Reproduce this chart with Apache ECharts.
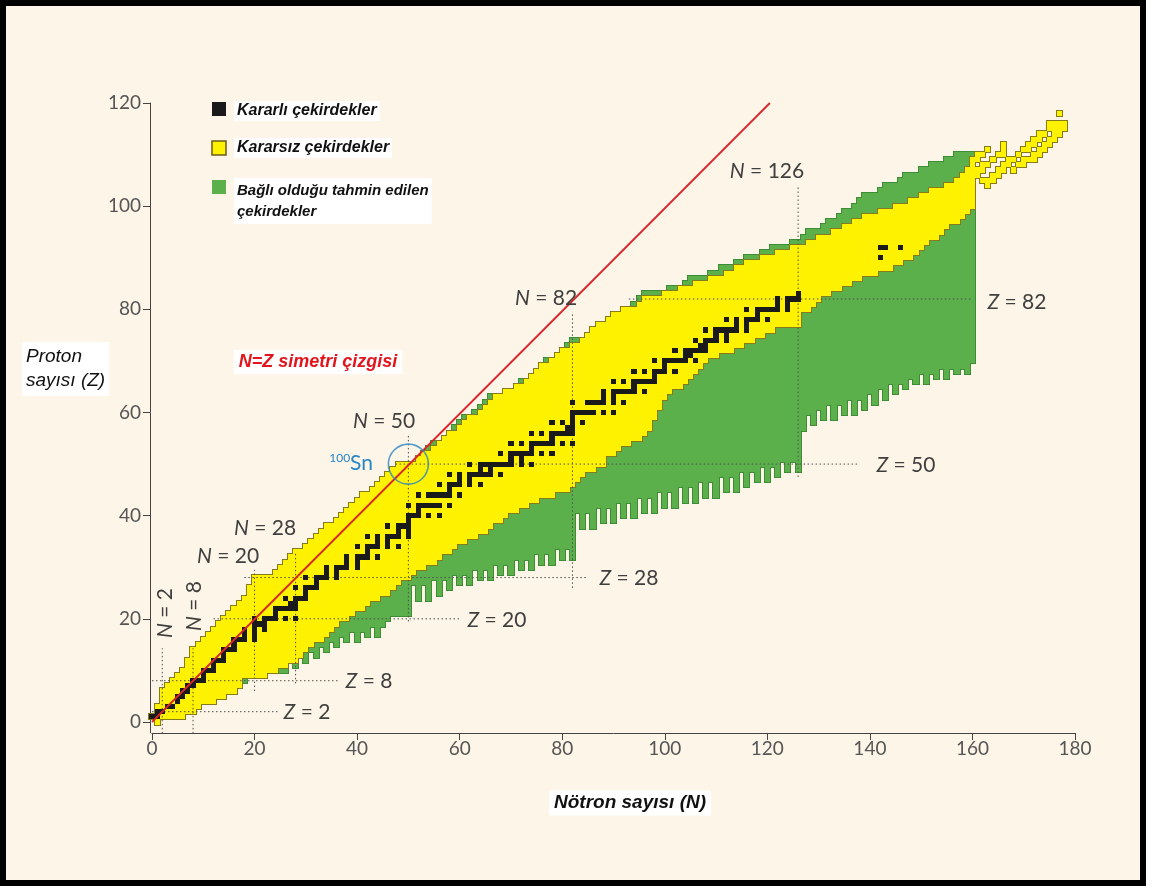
<!DOCTYPE html>
<html>
<head>
<meta charset="utf-8">
<title>Çekirdek haritası</title>
<script src="https://cdn.jsdelivr.net/npm/echarts@6/dist/echarts.min.js"></script>
<style>
  html, body { margin: 0; padding: 0; background: #ffffff; }
  #chart { width: 1152px; height: 888px; }
</style>
</head>
<body>
<div id="chart"></div>
<script>
// Axis ticks
const nTicks = [0, 20, 40, 60, 80, 100, 120, 140, 160, 180];
const zTicks = [0, 20, 40, 60, 80, 100, 120];

// Known (unstable) nuclei: lightest and heaviest neutron number for each Z = 0..103
const yellowLo = [1,
  0, 1, 1, 2, 2, 2, 3, 4, 5,
  6, 7, 7, 8, 8, 9, 10, 11, 12, 13,
  14, 15, 16, 17, 18, 19, 19, 20, 20, 24,
  25, 26, 27, 28, 30, 31, 32, 33, 34, 36,
  37, 38, 39, 40, 41, 43, 44, 45, 46, 47,
  48, 52, 53, 55, 56, 57, 58, 60, 61, 62,
  64, 65, 66, 67, 69, 71, 73, 74, 75, 76,
  78, 79, 80, 82, 84, 85, 86, 87, 89, 90,
  92, 95, 96, 100, 103, 106, 109, 112, 114, 116,
  119, 122, 125, 128, 130, 133, 135, 137, 139, 142,
  145, 148, 150, 152];
const yellowHi = [1,
  6, 8, 9, 12, 14, 16, 17, 17, 22,
  24, 26, 28, 29, 30, 31, 33, 34, 35, 36,
  38, 39, 41, 42, 44, 46, 47, 48, 50, 51,
  53, 55, 56, 58, 59, 61, 63, 65, 66, 68,
  69, 71, 73, 75, 78, 81, 82, 83, 84, 86,
  88, 88, 90, 91, 93, 95, 96, 97, 97, 98,
  98, 99, 99, 100, 101, 103, 104, 105, 106, 107,
  108, 110, 113, 115, 117, 119, 121, 126, 126, 126,
  128, 129, 130, 132, 134, 136, 138, 141, 144, 146,
  148, 149, 150, 151, 153, 154, 155, 157, 158, 159,
  160, 160, 160, 160];

// Superheavy known nuclei: [Z, N from, N to]
const heavyRows = [
  [104, 155, 160], [104, 163, 163],
  [105, 157, 160], [105, 162, 164],
  [106, 158, 161], [106, 164, 165],
  [107, 159, 162], [107, 165, 166], [107, 168, 168],
  [108, 160, 160], [108, 162, 163], [108, 166, 167], [108, 169, 170],
  [109, 160, 161], [109, 164, 164], [109, 167, 168], [109, 170, 172],
  [110, 161, 162], [110, 165, 166], [110, 169, 169], [110, 172, 173],
  [111, 163, 163], [111, 166, 166], [111, 170, 171], [111, 173, 174],
  [112, 166, 166], [112, 171, 172], [112, 174, 175],
  [113, 172, 173], [113, 175, 176],
  [114, 173, 174], [114, 176, 177],
  [115, 175, 176], [115, 177, 178],
  [116, 175, 178],
  [118, 177, 177]
];

// Predicted bound nuclei, one column per neutron number N = 18..160: lowest and highest Z
const greenFirstN = 18;
const greenBottom = [
  8, 9, 9, 10, 9, 10, 10, 10, 10, 12,
  11, 13, 12, 14, 13, 15, 14, 16, 15, 17,
  16, 18, 16, 18, 17, 19, 17, 19, 20, 21,
  21, 21, 21,
  27, 24, 27, 24, 28, 25, 28, 26, 29, 27,
  29, 27, 30, 28, 30, 28, 31, 29, 31, 29,
  32, 30, 32, 30, 33, 31, 33, 31, 34, 32, 34, 32,
  41, 38, 41, 38, 42, 39, 42, 39, 43, 40,
  43, 40, 44, 41, 44, 41, 45, 42, 45, 42,
  46, 43, 46, 43, 47, 44, 47, 44, 48, 45,
  48, 45, 49, 46, 49, 47, 50, 47, 50, 48, 51, 49, 51, 49,
  57, 60, 58, 61, 59, 62, 59, 62, 60, 63,
  60, 63, 61, 64, 62, 65, 63, 66, 64, 66,
  65, 67, 66, 68, 66, 68, 67, 69, 67, 69,
  68, 69, 68, 70];
const greenTop = [
  18, 19, 20, 21, 22, 23, 24, 25, 26, 27,
  28, 29, 30, 31, 32, 33, 34, 35, 36, 40,
  41, 42, 43, 44, 44, 45, 46, 47, 48, 49,
  50, 50, 50, 50, 51, 52, 53, 54, 54, 55,
  56, 57, 58, 59, 59, 60, 61, 62, 63, 63,
  63, 64, 64, 65, 66, 66, 67, 68, 69, 70,
  70, 71, 72, 73, 74, 74, 74, 75, 76, 77,
  77, 78, 79, 79, 80, 80, 81, 82, 83, 83,
  83, 83, 83, 84, 84, 84, 85, 86, 86, 86,
  86, 87, 87, 88, 88, 88, 89, 89, 90, 90,
  90, 91, 91, 92, 92, 92, 92, 93, 93, 94,
  95, 95, 95, 96, 97, 97, 98, 99, 99, 100,
  101, 102, 102, 102, 103, 104, 104, 104, 105, 106,
  106, 106, 107, 107, 108, 108, 108, 109, 109, 110,
  110, 110, 110];

// Stable nuclei: neutron numbers for each Z = 0..92
const stableN = [
  [], [0, 1], [1, 2], [3, 4], [5], [5, 6], [6, 7], [7, 8], [8, 9, 10], [10],
  [10, 11, 12], [12], [12, 13, 14], [14], [14, 15, 16], [16], [16, 17, 18, 20], [18, 20], [18, 20, 22], [20, 21, 22],
  [20, 22, 23, 24, 26, 28], [24], [24, 25, 26, 27, 28], [27, 28], [26, 28, 29, 30], [30], [28, 30, 31, 32], [32], [30, 32, 33, 34, 36], [34, 36],
  [34, 36, 37, 38, 40], [38, 40], [38, 40, 41, 42, 44], [42], [40, 42, 43, 44, 46, 48], [44, 46], [42, 44, 46, 47, 48, 50], [48, 50], [46, 48, 49, 50], [50],
  [50, 51, 52, 54, 56], [52], [50, 52, 53, 54, 55, 56, 58], [], [52, 54, 55, 56, 57, 58, 60], [58], [56, 58, 59, 60, 62, 64], [60, 62], [58, 60, 62, 63, 64, 65, 66, 68], [64, 66],
  [62, 64, 65, 66, 67, 68, 69, 70, 72, 74], [70, 72], [68, 70, 71, 72, 73, 74, 76, 78], [74], [70, 72, 74, 75, 76, 77, 78, 80, 82], [78], [74, 76, 78, 79, 80, 81, 82], [81, 82], [78, 80, 82, 84], [82],
  [82, 83, 84, 85, 86, 88, 90], [], [82, 85, 86, 87, 88, 90, 92], [88, 90], [88, 90, 91, 92, 93, 94, 96], [94], [90, 92, 94, 95, 96, 97, 98], [98], [94, 96, 98, 99, 100, 102], [100],
  [98, 100, 101, 102, 103, 104, 106], [104, 105], [102, 104, 105, 106, 107, 108], [107, 108], [106, 108, 109, 110, 112], [110, 112], [108, 110, 111, 112, 113, 114, 116], [114, 116], [112, 114, 116, 117, 118, 120], [118],
  [116, 118, 119, 120, 121, 122, 124], [122, 124], [122, 124, 125, 126], [126], [], [], [], [], [], [],
  [142], [], [142, 143, 146]
];

// Magic-number guide lines: [value, from, to]
const magicN = [[2, -2.2, 14.3], [8, -2.2, 14.3], [20, 6, 29.5], [28, 7.5, 33], [50, 19.5, 55.5], [82, 26, 79], [126, 47.5, 104]];
const magicZ = [[2, 0, 24.5], [8, 0, 36.5], [20, 12, 60], [28, 18, 85], [50, 47.5, 138], [82, 93, 160]];

// N = Z symmetry line and the doubly magic 100Sn
const symmetryLine = [[0, 0], [120.5, 120]];
const sn100 = [50, 50];

// ---- build drawable data ----
const yellowRows = yellowLo.map((lo, z) => [z, lo, yellowHi[z]]).concat(heavyRows);
const greenCols = greenBottom.map((lo, i) => [greenFirstN + i, lo, greenTop[i]]);
const stableCells = [];
stableN.forEach((ns, z) => ns.forEach(n => stableCells.push([n, z])));

function cellRect(api, x0, x1, y0, y1) {
  const a = api.coord([x0, y1]);
  const b = api.coord([x1, y0]);
  const l = Math.round(a[0]), t = Math.round(a[1]);
  const r = Math.round(b[0]), bt = Math.round(b[1]);
  return { x: l, y: t, width: r - l, height: bt - t };
}

function blockSeries(name, data, kind, fill, outline, z) {
  return {
    type: 'custom',
    name: name,
    data: data,
    z: z,
    silent: true,
    clip: false,
    coordinateSystem: 'cartesian2d',
    encode: kind === 'row' ? { x: [1, 2], y: 0 } : (kind === 'col' ? { x: 0, y: [1, 2] } : { x: 0, y: 1 }),
    renderItem: function (params, api) {
      let s;
      if (kind === 'row') {
        const zz = api.value(0);
        s = cellRect(api, api.value(1) - 0.5, api.value(2) + 0.5, zz - 0.5, zz + 0.5);
      } else if (kind === 'col') {
        const n = api.value(0);
        s = cellRect(api, n - 0.5, n + 0.5, api.value(1) - 0.5, api.value(2) + 0.5);
      } else {
        const n = api.value(0), zz = api.value(1);
        s = cellRect(api, n - 0.5, n + 0.5, zz - 0.5, zz + 0.5);
      }
      return {
        type: 'rect',
        shape: s,
        style: outline ? { fill: outline, stroke: outline, lineWidth: 2 } : { fill: fill }
      };
    }
  };
}

const GREEN = '#5bb04b', GREEN_EDGE = '#3f8c37';
const YELLOW = '#fff200', YELLOW_EDGE = '#857a1c';
const BLACK = '#1b1a1a';
const GUIDE = '#505050';

const series = [
  blockSeries('greenEdge', greenCols, 'col', null, GREEN_EDGE, 1),
  blockSeries('Bağlı olduğu tahmin edilen çekirdekler', greenCols, 'col', GREEN, null, 2),
  blockSeries('yellowEdge', yellowRows, 'row', null, YELLOW_EDGE, 3),
  blockSeries('Kararsız çekirdekler', yellowRows, 'row', YELLOW, null, 4)
];

magicN.forEach(m => series.push({
  type: 'line', data: [[m[0], m[1]], [m[0], m[2]]], symbol: 'none', silent: true, clip: false, z: 5,
  lineStyle: { color: GUIDE, width: 1, type: [1.5, 2.5] }
}));
magicZ.forEach(m => series.push({
  type: 'line', data: [[m[1], m[0]], [m[2], m[0]]], symbol: 'none', silent: true, clip: false, z: 5,
  lineStyle: { color: GUIDE, width: 1, type: [1.5, 2.5] }
}));

series.push(blockSeries('Kararlı çekirdekler', stableCells, 'cell', BLACK, null, 6));

series.push({
  type: 'line', name: 'N=Z', data: symmetryLine, symbol: 'none', silent: true, z: 7,
  lineStyle: { color: '#d8262c', width: 1.8 }
});
series.push({
  type: 'scatter', data: [sn100], symbol: 'circle', symbolSize: 40, silent: true, z: 8,
  itemStyle: { color: 'rgba(0,0,0,0)', borderColor: '#2a86c4', borderWidth: 1.6 }
});

const tickFont = 'Lato, "Open Sans", "DejaVu Sans", sans-serif';
const labelFont = '"Liberation Sans", Arial, sans-serif';

function magicLabel(letter, value, x, y, rot) {
  return {
    type: 'text', x: x, y: y, rotation: rot || 0, z: 20,
    style: {
      text: '{i|' + letter + '} = ' + value,
      fontFamily: tickFont, fontSize: 21, fill: '#3f3f3f',
      align: 'center', verticalAlign: 'middle',
      rich: { i: { fontStyle: 'italic', fontFamily: tickFont, fontSize: 21, fill: '#3f3f3f' } }
    }
  };
}

const graphic = [
  // frame
  { type: 'rect', z: -10, shape: { x: 3, y: 3, width: 1140, height: 880 },
    style: { fill: '#fcf5e8', stroke: '#000', lineWidth: 6 } },
  // y axis stub down to the offset x axis
  { type: 'line', z: 10, shape: { x1: 150.5, y1: 722, x2: 150.5, y2: 733 }, style: { stroke: '#444', lineWidth: 1 } },
  // legend
  { type: 'rect', z: 20, shape: { x: 212, y: 102, width: 14, height: 14 }, style: { fill: BLACK } },
  { type: 'rect', z: 20, shape: { x: 212, y: 141, width: 14, height: 14 }, style: { fill: YELLOW, stroke: '#6e5a14', lineWidth: 1.5 } },
  { type: 'rect', z: 20, shape: { x: 212, y: 180, width: 14, height: 14 }, style: { fill: GREEN } },
  { type: 'text', z: 20, x: 234, y: 111, style: { text: 'Kararlı çekirdekler', fontFamily: labelFont, fontSize: 16, fontWeight: 'bold', fontStyle: 'italic', fill: '#111', verticalAlign: 'middle', backgroundColor: '#fff', padding: [2, 3] } },
  { type: 'text', z: 20, x: 234, y: 148, style: { text: 'Kararsız çekirdekler', fontFamily: labelFont, fontSize: 16, fontWeight: 'bold', fontStyle: 'italic', fill: '#111', verticalAlign: 'middle', backgroundColor: '#fff', padding: [2, 3] } },
  { type: 'text', z: 20, x: 234, y: 178, style: { text: 'Bağlı olduğu tahmin edilen\nçekirdekler', fontFamily: labelFont, fontSize: 15, fontWeight: 'bold', fontStyle: 'italic', fill: '#111', lineHeight: 21, verticalAlign: 'top', backgroundColor: '#fff', padding: [2, 3] } },
  // axis names
  { type: 'text', z: 20, x: 22, y: 342, style: { text: 'Proton\nsayısı (Z)', fontFamily: labelFont, fontSize: 19, fontStyle: 'italic', fill: '#111', lineHeight: 24, backgroundColor: '#fff', padding: [3, 4] } },
  { type: 'text', z: 20, x: 630, y: 803, style: { text: 'Nötron sayısı (N)', fontFamily: labelFont, fontSize: 19, fontWeight: 'bold', fontStyle: 'italic', fill: '#111', align: 'center', verticalAlign: 'middle', backgroundColor: '#fff', padding: [3, 5] } },
  { type: 'text', z: 20, x: 318, y: 362, style: { text: 'N=Z simetri çizgisi', fontFamily: labelFont, fontSize: 18, fontWeight: 'bold', fontStyle: 'italic', fill: '#e2141c', align: 'center', verticalAlign: 'middle', backgroundColor: '#fff', padding: [3, 5] } },
  // 100Sn
  { type: 'text', z: 20, x: 373, y: 463, style: { text: '{s|100}{t|Sn}', align: 'right', verticalAlign: 'middle', rich: { s: { fontFamily: tickFont, fontSize: 12, fill: '#2a86c4', verticalAlign: 'top', padding: [0, 0, 9, 0] }, t: { fontFamily: tickFont, fontSize: 21, fill: '#2a86c4' } } } },
  // magic numbers
  magicLabel('N', 126, 767, 171),
  magicLabel('N', 82, 546, 298),
  magicLabel('N', 50, 384, 421),
  magicLabel('N', 28, 265, 528),
  magicLabel('N', 20, 228, 556),
  magicLabel('N', 8, 194, 606, Math.PI / 2),
  magicLabel('N', 2, 165, 613, Math.PI / 2),
  magicLabel('Z', 82, 1017, 302),
  magicLabel('Z', 50, 906, 465),
  magicLabel('Z', 28, 629, 578),
  magicLabel('Z', 20, 497, 620),
  magicLabel('Z', 8, 369, 681),
  magicLabel('Z', 2, 307, 712)
];

const chart = echarts.init(document.getElementById('chart'), null, { renderer: 'canvas' });
chart.setOption({
  animation: false,
  backgroundColor: '#ffffff',
  grid: { left: 152, right: 77, top: 103, bottom: 166 },
  xAxis: {
    type: 'value', min: nTicks[0], max: nTicks[nTicks.length - 1], interval: 20, offset: 11,
    axisLine: { show: true, onZero: false, lineStyle: { color: '#444', width: 1 } },
    axisTick: { show: true, length: 7, lineStyle: { color: '#444' } },
    axisLabel: { color: '#555', fontSize: 19, fontFamily: tickFont, margin: 6 },
    splitLine: { show: false }
  },
  yAxis: {
    type: 'value', min: zTicks[0], max: zTicks[zTicks.length - 1], interval: 20, offset: 2,
    axisLine: { show: true, onZero: false, lineStyle: { color: '#444', width: 1 } },
    axisTick: { show: true, length: 7, lineStyle: { color: '#444' } },
    axisLabel: { color: '#555', fontSize: 19, fontFamily: tickFont, margin: 9 },
    splitLine: { show: false }
  },
  series: series,
  graphic: graphic
});
</script>
</body>
</html>
